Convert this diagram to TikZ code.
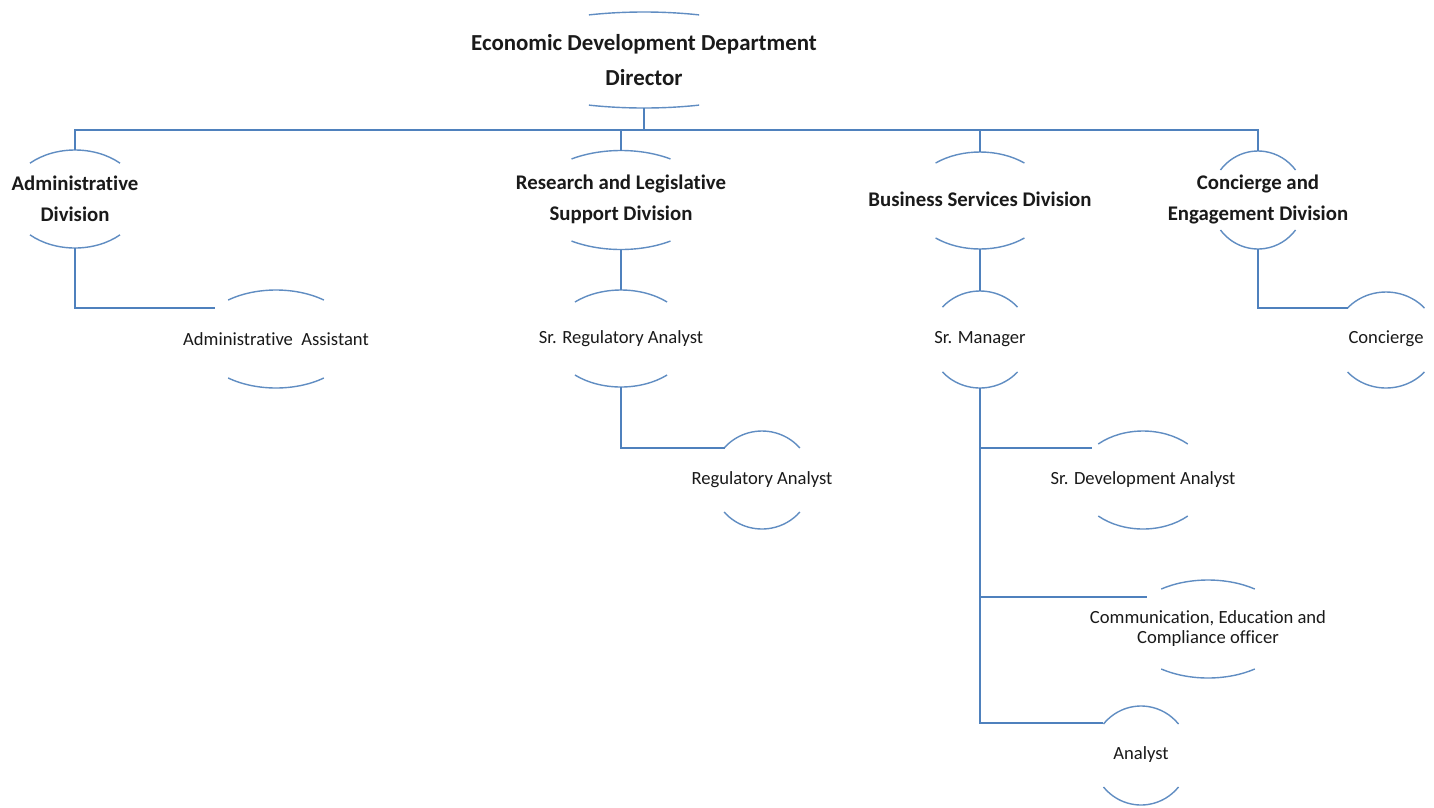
\documentclass[tikz,border=0pt]{standalone}
\usepackage{fontspec}
\setmainfont{Carlito}[Ligatures=NoCommon]
\definecolor{connc}{RGB}{79,129,189}
\definecolor{arcc}{RGB}{96,141,194}
\definecolor{txtc}{RGB}{26,26,26}
\tikzset{
  conn/.style={draw=connc, line width=1.5pt},
  arcline/.style={draw=arcc, line width=1.4pt},
  boldlbl/.style={text=txtc, font=\bfseries\fontsize{20.8}{31}\selectfont, align=center, inner sep=0pt},
  dirlbl/.style={text=txtc, font=\bfseries\fontsize{22.9}{35}\selectfont, align=center, inner sep=0pt},
  plainlbl/.style={text=txtc, font=\fontsize{18.6}{20}\selectfont, align=center, inner sep=0pt},
}
% cx cy rx ry a name
\newcommand\capshape[6]{%
  \draw[arcline] ({#1-#3*cos(#5)},{#2-#4*sin(#5)}) arc[start angle={180-#5}, end angle={#5}, x radius=#3pt, y radius=#4pt];
  \draw[arcline] ({#1-#3*cos(#5)},{#2+#4*sin(#5)}) arc[start angle={180+#5}, end angle={360-#5}, x radius=#3pt, y radius=#4pt];
  \coordinate (#6-t) at (#1,{#2-#4});
  \coordinate (#6-b) at (#1,{#2+#4});
}
\begin{document}
\begin{tikzpicture}[x=1pt,y=-1pt]
\useasboundingbox (0,0) rectangle (1434,807);
\fill[white] (0,0) rectangle (1434,807);

% shapes
\capshape{644}{60}{161}{48}{70}{dir}
\capshape{75}{199}{66}{49}{47}{adm}
\capshape{621}{200}{88.5}{49.5}{56}{res}
\capshape{980}{200.5}{70}{48.5}{50.6}{bsd}
\capshape{1258}{200}{47.5}{49}{37.8}{ced}
\capshape{276}{339}{79}{49}{52.7}{aa}
\capshape{621}{338.5}{70}{48.5}{48.8}{sra}
\capshape{980}{339.5}{50.5}{48.5}{42}{srm}
\capshape{1386}{340}{51.6}{48}{41.8}{con}
\capshape{762}{480}{50}{49}{40.8}{ra}
\capshape{1143}{480}{66}{49}{47.3}{sda}
\capshape{1208}{629}{81}{49}{54.7}{ceco}
\capshape{1141}{755.5}{48.6}{49.5}{39.5}{an}

% labels
\node[dirlbl] (dir) at (644,60) {Economic Development Department\\Director};
\node[boldlbl] (adm) at (75,199) {Administrative\\Division};
\node[boldlbl] (res) at (621,199) {Research and Legislative\\Support Division};
\node[boldlbl] (bsd) at (980,199) {Business Services Division};
\node[boldlbl] (ced) at (1258,199) {Concierge and\\Engagement Division};
\node[plainlbl] (aa) at (276,339) {Administrative\ \ Assistant};
\node[plainlbl] (sra) at (621,339) {Sr. Regulatory Analyst};
\node[plainlbl] (srm) at (980,339) {Sr. Manager};
\node[plainlbl] (con) at (1386,339) {Concierge};
\node[plainlbl] (ra) at (762,480) {Regulatory Analyst};
\node[plainlbl] (sda) at (1143,480) {Sr. Development Analyst};
\node[plainlbl] (ceco) at (1208,629) {Communication, Education and\\Compliance officer};
\node[plainlbl] (an) at (1141,755) {Analyst};

% connector end points
\coordinate (busy) at (0,130);
\coordinate (aa-l) at (215,308);
\coordinate (ra-l) at (725,448);
\coordinate (con-l) at (1348,308);
\coordinate (sda-l) at (1092,448);
\coordinate (ceco-l) at (1147,597);
\coordinate (an-l) at (1103,723);

% connectors
\draw[conn] (dir-b) -- (dir-b |- busy);
\draw[conn] (adm-t) -- (adm-t |- busy) -- (ced-t |- busy) -- (ced-t);
\draw[conn] (res-t) -- (res-t |- busy);
\draw[conn] (bsd-t) -- (bsd-t |- busy);
\draw[conn] (adm-b) |- (aa-l);
\draw[conn] (res-b) -- (sra-t);
\draw[conn] (sra-b) |- (ra-l);
\draw[conn] (bsd-b) -- (srm-t);
\draw[conn] (srm-b) |- (an-l);
\draw[conn] (srm-b |- sda-l) -- (sda-l);
\draw[conn] (srm-b |- ceco-l) -- (ceco-l);
\draw[conn] (ced-b) |- (con-l);
\end{tikzpicture}
\end{document}
